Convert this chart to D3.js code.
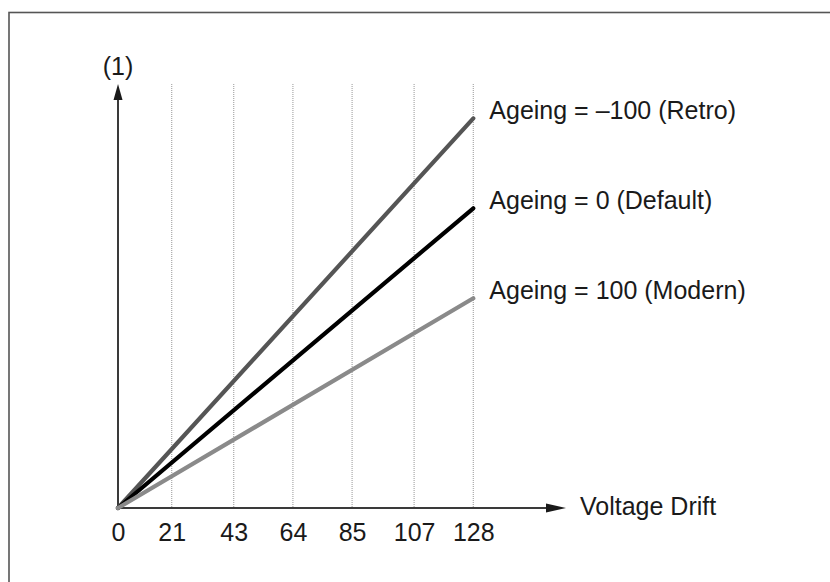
<!DOCTYPE html>
<html>
<head>
<meta charset="utf-8">
<script src="https://cdn.jsdelivr.net/npm/d3@7/dist/d3.min.js"></script>
<style>
  html, body { margin: 0; padding: 0; background: #fff; }
  svg { display: block; }
  text { font-family: "Liberation Sans", Arial, sans-serif; fill: #1a1a1a; }
</style>
</head>
<body>
<svg id="chart" width="830" height="582"></svg>
<script>
// ---- data ----
const xTicks = [0, 21, 43, 64, 85, 107, 128];
const seriesNames = ["Ageing = \u2013100 (Retro)", "Ageing = 0 (Default)", "Ageing = 100 (Modern)"];
const startValues = [0, 0, 0];
const endValues = [1.3, 1.0, 0.7];
const seriesColors = ["#555555", "#000000", "#8a8a8a"];
const xLabel = "Voltage Drift";
const yLabel = "(1)";

// ---- layout ----
const svg = d3.select("#chart");
const X0 = 118, Y0 = 508, TOP = 84, RIGHT = 566;
const FS = 25;

const x = d3.scaleLinear().domain([0, 21, 128]).range([X0, 171.7, 473.3]);
const y = d3.scaleLinear().domain([0, 1]).range([Y0, 208.3]);

// frame
svg.append("rect")
  .attr("x", 9).attr("y", 12.5)
  .attr("width", 900).attr("height", 700)
  .attr("fill", "none").attr("stroke", "#555").attr("stroke-width", 1.6);

// gridlines (dotted)
svg.append("g").selectAll("line")
  .data(xTicks.filter(d => d > 0))
  .join("line")
  .attr("x1", d => x(d)).attr("x2", d => x(d))
  .attr("y1", TOP).attr("y2", Y0)
  .attr("stroke", "#a8a8a8").attr("stroke-width", 1.2)
  .attr("stroke-dasharray", "1,1");

// x axis via d3.axisBottom (labels only)
const xAxis = svg.append("g")
  .attr("transform", `translate(0,${Y0})`)
  .call(d3.axisBottom(x).tickValues(xTicks).tickFormat(d3.format("d")).tickSize(0).tickPadding(15));
xAxis.select(".domain").remove();
xAxis.selectAll("text")
  .attr("font-family", "Liberation Sans, Arial, sans-serif")
  .attr("font-size", FS)
  .attr("fill", "#1a1a1a")
  .attr("dy", "0.71em");

// axes lines with arrows
const axisColor = "#3a3a3a";
svg.append("line")
  .attr("x1", X0).attr("y1", Y0).attr("x2", RIGHT - 16).attr("y2", Y0)
  .attr("stroke", axisColor).attr("stroke-width", 2);
svg.append("path")
  .attr("d", `M${RIGHT},${Y0} L${RIGHT - 20},${Y0 - 4.5} L${RIGHT - 20},${Y0 + 4.5} Z`)
  .attr("fill", "#1a1a1a");
svg.append("line")
  .attr("x1", X0).attr("y1", Y0).attr("x2", X0).attr("y2", TOP + 14)
  .attr("stroke", axisColor).attr("stroke-width", 2);
svg.append("path")
  .attr("d", `M${X0},${TOP} L${X0 - 4.5},${TOP + 16} L${X0 + 4.5},${TOP + 16} Z`)
  .attr("fill", "#1a1a1a");

// series lines
const line = d3.line().x(d => x(d[0])).y(d => y(d[1]));
const series = seriesNames.map((name, i) => ({
  name,
  color: seriesColors[i],
  points: [[xTicks[0], startValues[i]], [xTicks[xTicks.length - 1], endValues[i]]]
}));

svg.append("g").selectAll("path")
  .data(series)
  .join("path")
  .attr("d", d => line(d.points))
  .attr("fill", "none")
  .attr("stroke", d => d.color)
  .attr("stroke-width", 4.2)
  .attr("stroke-linecap", "round");

// series labels
svg.append("g").selectAll("text")
  .data(series)
  .join("text")
  .attr("x", x(xTicks[xTicks.length - 1]) + 16)
  .attr("y", d => y(d.points[1][1]) + 1)
  .attr("font-size", FS)
  .text(d => d.name);

// axis titles
svg.append("text")
  .attr("x", RIGHT + 14).attr("y", Y0 + 7)
  .attr("font-size", FS)
  .text(xLabel);
svg.append("text")
  .attr("x", X0).attr("y", TOP - 9)
  .attr("text-anchor", "middle")
  .attr("font-size", FS)
  .text(yLabel);
</script>
</body>
</html>
